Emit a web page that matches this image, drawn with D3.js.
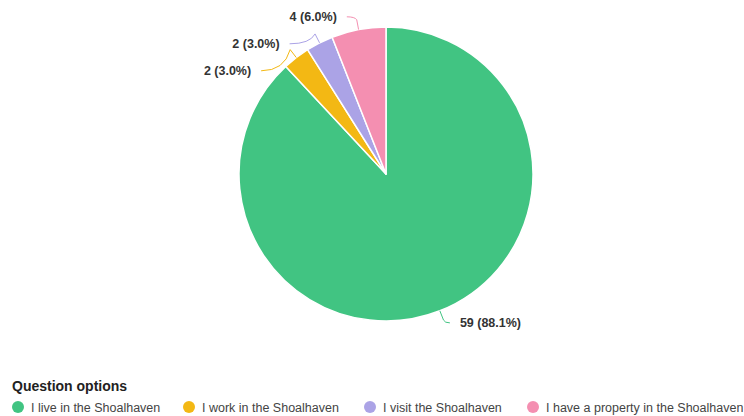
<!DOCTYPE html>
<html><head><meta charset="utf-8">
<script src="https://cdn.jsdelivr.net/npm/d3@7"></script>
<style>body{margin:0;background:#fff}svg{display:block;font-family:"Liberation Sans",Arial,Helvetica,sans-serif}</style>
</head><body><svg id="c" width="744" height="416"></svg>
<script>
const categories = ["I live in the Shoalhaven","I work in the Shoalhaven","I visit the Shoalhaven","I have a property in the Shoalhaven"];
const values = [59, 2, 2, 4];
const percents = ["88.1%","3.0%","3.0%","6.0%"];
const colors = ["#41c482","#f3b814","#aba3e6","#f48fb1"];
const legendTitle = "Question options";

const svg = d3.select("#c");
const cx = 386, cy = 174, r = 147;
const g = svg.append("g").attr("transform", `translate(${cx},${cy})`);
const pie = d3.pie().sort(null).value(d => d)(values);
const arc = d3.arc().innerRadius(0).outerRadius(r);
g.selectAll("path.s").data(pie).join("path").attr("class","s")
  .attr("d", arc).attr("fill", (d,i)=>colors[i]).attr("stroke","#fff").attr("stroke-width",1.5).attr("stroke-linejoin","round");

// label layout
const labR = r + 13, endR = 162, spacing = 27, minY = 16 - cy;
const labs = pie.map((d,i) => {
  const a = (d.startAngle + d.endAngle)/2;
  return {i, a, side: Math.sin(a) >= 0 ? 1 : -1, y: -labR*Math.cos(a)};
});
const left = labs.filter(l=>l.side<0).sort((a,b)=>a.y-b.y);
let prev = -Infinity;
left.forEach(l => { l.y = Math.max(l.y, minY, prev + spacing); prev = l.y; });
const right = labs.filter(l=>l.side>0).sort((a,b)=>a.y-b.y);
prev = -Infinity;
right.forEach(l => { l.y = Math.max(l.y, minY, prev + spacing); prev = l.y; });

labs.forEach(l => {
  const ex = l.side * Math.sqrt(Math.max(0, endR*endR - l.y*l.y));
  const ax = r*Math.sin(l.a), ay = -r*Math.cos(l.a);
  const bx = (r+10)*Math.sin(l.a), by = -(r+10)*Math.cos(l.a);
  g.append("path")
    .attr("d", `M${ax},${ay}L${bx},${by}Q${bx+(ex-bx)*0.2},${l.y} ${ex},${l.y}`)
    .attr("fill","none").attr("stroke", colors[l.i]).attr("stroke-width",1);
  g.append("text").attr("x", ex + l.side*10).attr("y", l.y).attr("dy","0.35em")
    .attr("text-anchor", l.side>0 ? "start" : "end")
    .attr("font-size", 12.5).attr("font-weight","bold").attr("fill","#333")
    .text(`${values[l.i]} (${percents[l.i]})`);
});

// legend
svg.append("text").attr("x", 12).attr("y", 391).attr("font-size", 14).attr("font-weight","bold").attr("fill","#222").text(legendTitle);
const legX = [18, 189, 370, 533];
const lg = svg.append("g");
categories.forEach((c,i) => {
  lg.append("circle").attr("cx", legX[i]).attr("cy", 407).attr("r", 6).attr("fill", colors[i]);
  lg.append("text").attr("x", legX[i]+13).attr("y", 411.5).attr("font-size", 12.5).attr("fill","#444").text(c);
});
</script></body></html>
